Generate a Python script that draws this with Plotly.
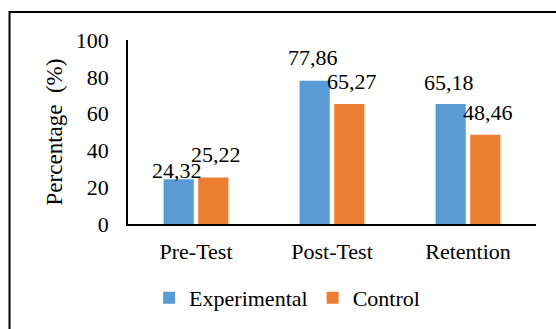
import plotly.graph_objects as go

categories = ["Pre-Test", "Post-Test", "Retention"]
experimental = [24.32, 77.86, 65.18]
control = [25.22, 65.27, 48.46]
exp_labels = ["24,32", "77,86", "65,18"]
ctl_labels = ["25,22", "65,27", "48,46"]
y_ticks = [0, 20, 40, 60, 80, 100]

BLUE = "#5B9BD5"
ORANGE = "#ED7D31"
FONT = "Liberation Serif"

fig = go.Figure()
fig.add_trace(go.Bar(x=categories, y=experimental, name="Experimental",
                     marker=dict(color=BLUE, line=dict(width=0))))
fig.add_trace(go.Bar(x=categories, y=control, name="Control",
                     marker=dict(color=ORANGE, line=dict(width=0))))

# data labels
exp_shift = [9, 23, 22]
ctl_shift = [23, 22, 22]
for i, c in enumerate(categories):
    fig.add_annotation(x=c, y=experimental[i], text=exp_labels[i], xshift=-19.5,
                       yshift=exp_shift[i], showarrow=False, yanchor="middle",
                       font=dict(family=FONT, size=22, color="black"))
    fig.add_annotation(x=c, y=control[i], text=ctl_labels[i], xshift=19.5,
                       yshift=ctl_shift[i], showarrow=False, yanchor="middle",
                       font=dict(family=FONT, size=22, color="black"))

# outer frame
fig.add_shape(type="rect", xref="paper", yref="paper",
              x0=-0.2904, x1=1.2, y0=-0.8, y1=1.152,
              line=dict(color="black", width=2), fillcolor="rgba(0,0,0,0)")

fig.update_layout(
    width=556, height=329,
    margin=dict(l=128, r=20, t=40, b=105, autoexpand=False),
    paper_bgcolor="white", plot_bgcolor="white",
    barmode="group", bargap=0.49, bargroupgap=0.13,
    font=dict(family=FONT, size=22, color="black"),
    legend=dict(orientation="h", x=0.39, xanchor="center", y=-0.402, yanchor="middle",
                font=dict(family=FONT, size=22, color="black"),
                itemwidth=30, tracegroupgap=0, bgcolor="rgba(0,0,0,0)"),
    xaxis=dict(showline=True, linecolor="black", linewidth=1.5, ticks="",
               showgrid=False, ticklabelstandoff=7,
               tickfont=dict(family=FONT, size=22, color="black")),
    yaxis=dict(range=[0, 100], tickvals=y_ticks, showline=True, linecolor="black",
               linewidth=1.5, ticks="", showgrid=False, zeroline=False,
               ticklabelstandoff=13,
               tickfont=dict(family=FONT, size=22, color="black"),
               title=dict(text="Percentage  (%)", standoff=7,
                          font=dict(family=FONT, size=23, color="black"))),
)

fig.write_html("out.html", config={"displayModeBar": False},
               post_script="document.body.style.margin='0';")
